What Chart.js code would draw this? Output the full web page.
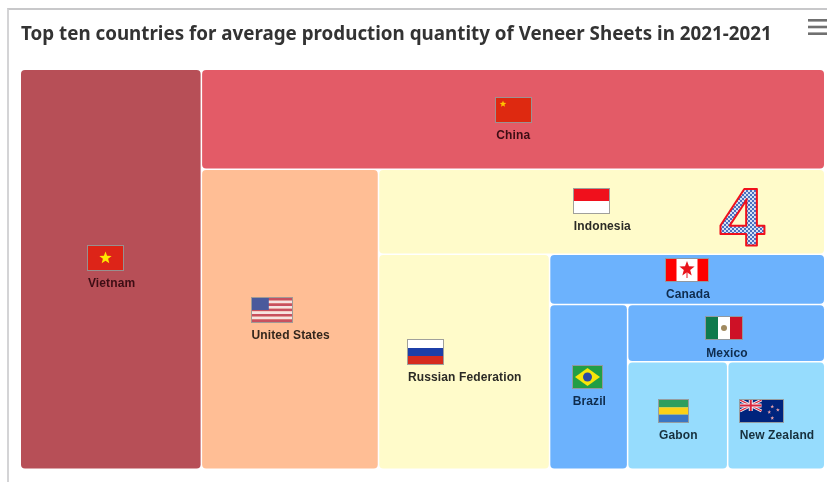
<!DOCTYPE html>
<html>
<head>
<meta charset="utf-8">
<script src="https://cdn.jsdelivr.net/npm/chart.js@4"></script>
<style>
	body { margin: 0; background: #fff; }
	#frame { position: absolute; left: 7px; top: 8px; right: 0; bottom: 0; border-left: 2px solid #d4d4d6; border-top: 2px solid #c8c8ca; }
	#chart { position: absolute; left: 0; top: 0; }
</style>
</head>
<body>
<div id="frame"></div>
<canvas id="chart" width="827" height="482"></canvas>
<script>
const TITLE = "Top ten countries for average production quantity of Veneer Sheets in 2021-2021";
const COUNTRIES = ["Vietnam", "China", "United States", "Indonesia", "Russian Federation", "Canada", "Brazil", "Mexico", "Gabon", "New Zealand"];
const QUANTITIES = [7204, 6199, 5284, 3769, 3659, 1375, 1279, 1123, 1070, 1038];
const CELL_COLORS = ["#b74f57", "#e35b67", "#ffbe95", "#fffbca", "#fffbca", "#6cb2fd", "#6cb2fd", "#6cb2fd", "#96dcfd", "#96dcfd"];
const TEXT_COLORS = ["#3d0d14", "#3d0d14", "#33261c", "#2b2b26", "#2b2b26", "#0f2c4d", "#0f2c4d", "#0f2c4d", "#17303d", "#17303d"];
const WATERMARK = "4";

const CELL_GAP = 1.5;
const FLAG_SIZES = {
	"Vietnam": [35, 24], "China": [35, 24], "United States": [40, 24], "Indonesia": [35, 24],
	"Russian Federation": [35, 24], "Canada": [42, 22], "Brazil": [29, 22], "Mexico": [36, 22],
	"Gabon": [29, 22], "New Zealand": [43, 22]
};
// labels that sit a little off the middle of their cell
const LABEL_NUDGE = { "Vietnam": -2, "Indonesia": -1, "Mexico": 5, "Gabon": 5, "New Zealand": 5 };


// each value takes its share of what is left, cutting columns and rows in turn
function layoutCells(values) {
	let cells = [];
	let x0 = 0, y0 = 0, x1 = 1, y1 = 1;
	let remaining = values.reduce((a, b) => a + b, 0);
	values.forEach((value, i) => {
		const share = value / remaining;
		if (i % 2 === 0) {
			const cut = x0 + (x1 - x0) * share;
			cells.push({ x0: x0, x1: cut, y0: y0, y1: y1 });
			x0 = cut;
		} else {
			const cut = y0 + (y1 - y0) * share;
			cells.push({ x0: x0, x1: x1, y0: y0, y1: cut });
			y0 = cut;
		}
		remaining -= value;
	});
	return cells;
}


class StripTreemapController extends Chart.DatasetController {
	update(mode) {
		const meta = this._cachedMeta;
		this.updateElements(meta.data, 0, meta.data.length, mode);
	}

	updateElements(elements, start, count, mode) {
		const xScale = this.chart.scales.x;
		const yScale = this.chart.scales.y;
		const cells = layoutCells(this.getDataset().data);
		for (let i = start; i < start + count; i++) {
			const left = xScale.getPixelForValue(cells[i].x0);
			const right = xScale.getPixelForValue(cells[i].x1) - CELL_GAP;
			const top = yScale.getPixelForValue(cells[i].y0);
			const bottom = yScale.getPixelForValue(cells[i].y1) - CELL_GAP;
			this.updateElement(elements[i], i, {
				x: (left + right) / 2,
				y: top,
				base: bottom,
				width: right - left,
				height: bottom - top,
				horizontal: false,
				inflateAmount: 0,
				enableBorderRadius: true,
				borderSkipped: { top: false, left: false, bottom: false, right: false },
				options: this.resolveDataElementOptions(i, mode)
			}, mode);
		}
	}
}
StripTreemapController.id = "stripTreemap";
StripTreemapController.defaults = { dataElementType: "bar" };
StripTreemapController.overrides = { scales: { x: { type: "linear" }, y: { type: "linear" } } };
Chart.register(StripTreemapController);


function star(ctx, cx, cy, r, color) {
	ctx.fillStyle = color;
	ctx.beginPath();
	for (let i = 0; i < 10; i++) {
		const a = -Math.PI / 2 + i * Math.PI / 5;
		const d = i % 2 ? r * 0.42 : r;
		ctx.lineTo(cx + Math.cos(a) * d, cy + Math.sin(a) * d);
	}
	ctx.fill();
}

function bands(ctx, x, y, w, h, colors) {
	colors.forEach((c, i) => {
		ctx.fillStyle = c;
		ctx.fillRect(x, y + h * i / colors.length, w, h / colors.length);
	});
}

function drawFlag(ctx, name, x, y, w, h) {
	ctx.save();
	ctx.beginPath();
	ctx.rect(x, y, w, h);
	ctx.clip();
	if (name === "Vietnam") {
		bands(ctx, x, y, w, h, ["#dd2418"]);
		star(ctx, x + w / 2, y + h / 2, 6.5, "#ffe600");
	} else if (name === "China") {
		bands(ctx, x, y, w, h, ["#de2910"]);
		star(ctx, x + 7, y + 6, 3.5, "#ffc400");
	} else if (name === "United States") {
		bands(ctx, x, y, w, h, ["#c8505f", "#f6e4e2", "#c8505f", "#f6e4e2", "#c8505f", "#f6e4e2", "#c8505f", "#f6e4e2", "#c8505f"]);
		ctx.fillStyle = "#4a5a9c";
		ctx.fillRect(x, y, w * 0.42, h * 0.5);
	} else if (name === "Indonesia") {
		bands(ctx, x, y, w, h, ["#f0101c", "#ffffff"]);
	} else if (name === "Russian Federation") {
		bands(ctx, x, y, w, h, ["#ffffff", "#1c3fa8", "#d52b1e"]);
	} else if (name === "Canada") {
		bands(ctx, x, y, w, h, ["#ffffff"]);
		ctx.fillStyle = "#ff0000";
		ctx.fillRect(x, y, w / 4, h);
		ctx.fillRect(x + w * 3 / 4, y, w / 4, h);
		star(ctx, x + w / 2, y + h / 2 - 1, 8, "#e8141c");
		ctx.fillRect(x + w / 2 - 0.5, y + h / 2 + 2, 1, 6);
	} else if (name === "Brazil") {
		bands(ctx, x, y, w, h, ["#229e45"]);
		ctx.fillStyle = "#f8e509";
		ctx.beginPath();
		ctx.moveTo(x + 2, y + h / 2);
		ctx.lineTo(x + w / 2, y + 2);
		ctx.lineTo(x + w - 2, y + h / 2);
		ctx.lineTo(x + w / 2, y + h - 2);
		ctx.fill();
		ctx.fillStyle = "#2b49a3";
		ctx.beginPath();
		ctx.arc(x + w / 2, y + h / 2, 4.5, 0, Math.PI * 2);
		ctx.fill();
	} else if (name === "Mexico") {
		ctx.fillStyle = "#0f7a4d";
		ctx.fillRect(x, y, w / 3, h);
		ctx.fillStyle = "#ffffff";
		ctx.fillRect(x + w / 3, y, w / 3, h);
		ctx.fillStyle = "#ce1126";
		ctx.fillRect(x + w * 2 / 3, y, w / 3, h);
		ctx.fillStyle = "#a08a5f";
		ctx.beginPath();
		ctx.arc(x + w / 2, y + h / 2, 3, 0, Math.PI * 2);
		ctx.fill();
	} else if (name === "Gabon") {
		bands(ctx, x, y, w, h, ["#2f9e5e", "#fcd116", "#3a75c4"]);
	} else if (name === "New Zealand") {
		bands(ctx, x, y, w, h, ["#00247d"]);
		const qw = w / 2, qh = h / 2;
		ctx.strokeStyle = "#f4f4f8";
		ctx.lineWidth = 3;
		ctx.beginPath();
		ctx.moveTo(x, y); ctx.lineTo(x + qw, y + qh);
		ctx.moveTo(x + qw, y); ctx.lineTo(x, y + qh);
		ctx.stroke();
		ctx.strokeStyle = "#d8243c";
		ctx.lineWidth = 1.2;
		ctx.stroke();
		ctx.strokeStyle = "#f4f4f8";
		ctx.lineWidth = 4;
		ctx.beginPath();
		ctx.moveTo(x + qw / 2, y); ctx.lineTo(x + qw / 2, y + qh);
		ctx.moveTo(x, y + qh / 2); ctx.lineTo(x + qw, y + qh / 2);
		ctx.stroke();
		ctx.strokeStyle = "#d8243c";
		ctx.lineWidth = 2;
		ctx.stroke();
		[[0.75, 0.3], [0.88, 0.45], [0.68, 0.55], [0.75, 0.82]].forEach(p => star(ctx, x + w * p[0], y + h * p[1], 2, "#e8a0a8"));
	}
	ctx.restore();
	ctx.strokeStyle = "rgba(150, 150, 150, 0.9)";
	ctx.lineWidth = 1;
	ctx.strokeRect(x - 0.5, y - 0.5, w + 1, h + 1);
}


const cellLabelsPlugin = {
	id: "cellLabels",
	afterDatasetsDraw(chart) {
		const ctx = chart.ctx;
		const cells = layoutCells(QUANTITIES);
		ctx.save();
		ctx.font = "bold 12px 'Liberation Sans'";
		ctx.letterSpacing = "0.12px";
		ctx.textBaseline = "middle";
		ctx.textAlign = "left";
		COUNTRIES.forEach((name, i) => {
			const cx = (chart.scales.x.getPixelForValue(cells[i].x0) + chart.scales.x.getPixelForValue(cells[i].x1)) / 2;
			const cy = (chart.scales.y.getPixelForValue(cells[i].y0) + chart.scales.y.getPixelForValue(cells[i].y1)) / 2;
			const [fw, fh] = FLAG_SIZES[name];
			const blockW = Math.max(fw, ctx.measureText(name).width);
			const blockH = fh + 21;
			const left = cx - blockW / 2;
			const top = cy - blockH / 2 + (LABEL_NUDGE[name] || 0);
			drawFlag(ctx, name, Math.round(left), Math.round(top), fw, fh);
			ctx.fillStyle = TEXT_COLORS[i];
			ctx.fillText(name, left, top + fh + 14);
		});
		ctx.restore();
	}
};

const watermarkPlugin = {
	id: "watermark",
	afterDraw(chart) {
		const ctx = chart.ctx;
		const tile = document.createElement("canvas");
		tile.width = 4;
		tile.height = 4;
		const t = tile.getContext("2d");
		t.fillStyle = "#d5e0f3";
		t.fillRect(0, 0, 4, 4);
		t.fillStyle = "#4a6fc0";
		t.fillRect(0, 0, 2, 2);
		t.fillRect(2, 2, 2, 2);
		ctx.save();
		ctx.font = "bold 82px 'Liberation Sans'";
		ctx.textAlign = "center";
		ctx.textBaseline = "alphabetic";
		ctx.lineJoin = "round";
		ctx.fillStyle = ctx.createPattern(tile, "repeat");
		ctx.fillText(WATERMARK, 742, 244.5);
		ctx.strokeStyle = "#f0101c";
		ctx.lineWidth = 2;
		ctx.strokeText(WATERMARK, 742, 244.5);
		ctx.restore();
	}
};

const menuIconPlugin = {
	id: "menuIcon",
	afterDraw(chart) {
		const ctx = chart.ctx;
		ctx.fillStyle = "#707070";
		for (let i = 0; i < 3; i++) {
			ctx.fillRect(808, 19 + i * 6.7, 19, 2.6);
		}
	}
};


new Chart(document.getElementById("chart"), {
	type: "stripTreemap",
	data: {
		labels: COUNTRIES,
		datasets: [{
			label: "Average production quantity",
			data: QUANTITIES,
			backgroundColor: CELL_COLORS,
			borderWidth: 0,
			borderRadius: 4
		}]
	},
	options: {
		responsive: false,
		animation: false,
		layout: { padding: { left: 21, right: 1.5, top: 0, bottom: 12 } },
		scales: {
			x: { type: "linear", min: 0, max: 1, display: false },
			y: { type: "linear", min: 0, max: 1, reverse: true, display: false }
		},
		plugins: {
			legend: { display: false },
			tooltip: { enabled: false },
			title: {
				display: true,
				text: TITLE,
				align: "start",
				color: "#333333",
				font: { family: "'Noto Sans'", size: 18.8, weight: "bold", lineHeight: 1.2 },
				padding: { top: 23, bottom: 24.44 }
			}
		}
	},
	plugins: [cellLabelsPlugin, watermarkPlugin, menuIconPlugin]
});
</script>
</body>
</html>
